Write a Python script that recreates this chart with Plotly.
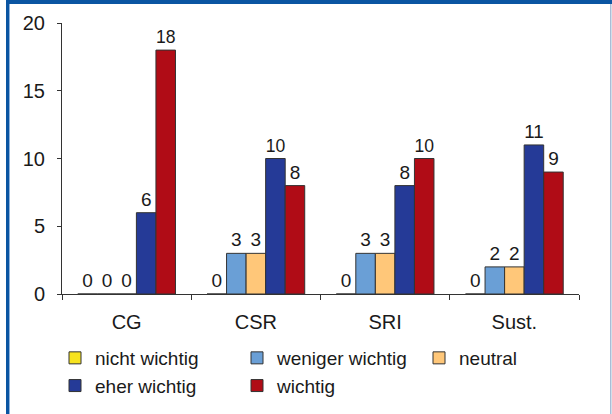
import plotly.graph_objects as go

categories = ["CG", "CSR", "SRI", "Sust."]
series_names = ["nicht wichtig", "weniger wichtig", "neutral", "eher wichtig", "wichtig"]
nicht_wichtig = [0, 0, 0, 0]
weniger_wichtig = [0, 3, 3, 2]
neutral = [0, 3, 3, 2]
eher_wichtig = [6, 10, 8, 11]
wichtig = [18, 8, 10, 9]
colors = ["#f7e31f", "#6a9fd6", "#ffc779", "#253a97", "#b00c16"]
y_ticks = [0, 5, 10, 15, 20]

W, H = 612, 414
L, R, T, B = 62, 33, 23, 120
pw, ph = W - L - R, H - T - B

def px_x(p):
    return (p - L) / pw

def px_y(p):
    return (H - B - p) / ph

fig = go.Figure()
for name, vals, col in zip(series_names,
                           [nicht_wichtig, weniger_wichtig, neutral, eher_wichtig, wichtig],
                           colors):
    fig.add_trace(go.Bar(
        name=name, x=categories, y=vals,
        marker=dict(color=col, line=dict(color="#333333", width=1)),
        text=[str(v) for v in vals], textposition="outside",
        textfont=dict(size=19, color="#1a1a1a"),
        cliponaxis=False,
    ))

fig.update_layout(
    width=W, height=H,
    margin=dict(l=L, r=R, t=T, b=B, autoexpand=False),
    paper_bgcolor="white", plot_bgcolor="white",
    font=dict(family="Liberation Sans, Arial, sans-serif", color="#1a1a1a"),
    barmode="group", bargap=0.244, bargroupgap=0,
    showlegend=True,
    legend=dict(orientation="h", x=px_x(55), xanchor="left", y=px_y(339), yanchor="top",
                font=dict(size=19), entrywidth=137, entrywidthmode="pixels",
                bgcolor="rgba(0,0,0,0)", traceorder="normal"),
    xaxis=dict(showline=True, linecolor="#333333", linewidth=1, ticks="outside",
               tickson="boundaries", ticklen=5, tickcolor="#333333",
               tickfont=dict(size=20), showgrid=False, ticklabelstandoff=10),
    yaxis=dict(range=[0, 20], tickvals=y_ticks, showline=True, linecolor="#333333",
               linewidth=1, ticks="outside", ticklen=4, tickcolor="#333333",
               tickfont=dict(size=20), showgrid=False, zeroline=False,
               ticklabelstandoff=8),
    shapes=[
        dict(type="rect", xref="paper", yref="paper", x0=px_x(6), x1=px_x(613),
             y0=px_y(4), y1=px_y(-2), fillcolor="#0a55a2", line=dict(width=0), layer="above"),
        dict(type="rect", xref="paper", yref="paper", x0=px_x(6), x1=px_x(9),
             y0=px_y(416), y1=px_y(0), fillcolor="#0a55a2", line=dict(width=0), layer="above"),
        dict(type="rect", xref="paper", yref="paper", x0=px_x(9), x1=px_x(10),
             y0=px_y(416), y1=px_y(4), fillcolor="#8fb3dc", line=dict(width=0), layer="above"),
        dict(type="rect", xref="paper", yref="paper", x0=px_x(610), x1=px_x(611.5),
             y0=px_y(416), y1=px_y(4), fillcolor="#a9bdd6", line=dict(width=0), layer="above"),
    ],
)

fig.write_html("out.html", config={"displayModeBar": False},
               post_script="document.body.style.margin='0';")
